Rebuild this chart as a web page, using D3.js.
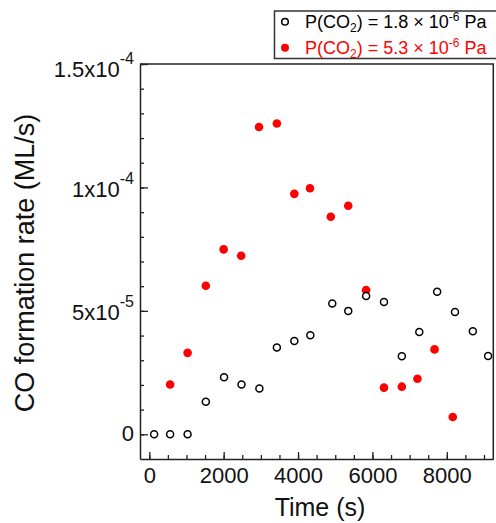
<!DOCTYPE html>
<html>
<head>
<meta charset="utf-8">
<script src="https://cdn.jsdelivr.net/npm/d3@7"></script>
<style>
  body { margin: 0; background: #fff; }
  svg { display: block; font-family: Arial, "Liberation Sans", sans-serif; }
</style>
</head>
<body>
<svg id="chart"></svg>
<script>
// time (s) and CO formation rate (ML/s)
const timeLow = [130, 560, 1030, 1520, 2010, 2480, 2960, 3430, 3900, 4330, 4920, 5350, 5830, 6310, 6790, 7260, 7740, 8220, 8700, 9110];
const rateLow = [0, 0, 0, 1.32e-5, 2.31e-5, 2.02e-5, 1.86e-5, 3.52e-5, 3.78e-5, 4.01e-5, 5.30e-5, 5.00e-5, 5.60e-5, 5.36e-5, 3.16e-5, 4.14e-5, 5.77e-5, 4.95e-5, 4.17e-5, 3.17e-5];

const timeHigh = [560, 1030, 1520, 2000, 2470, 2950, 3430, 3900, 4320, 4880, 5350, 5830, 6310, 6790, 7210, 7670, 8160];
const rateHigh = [2.02e-5, 3.30e-5, 6.02e-5, 7.49e-5, 7.23e-5, 12.45e-5, 12.59e-5, 9.74e-5, 9.97e-5, 8.81e-5, 9.26e-5, 5.84e-5, 1.89e-5, 1.93e-5, 2.25e-5, 3.44e-5, 0.70e-5];

const xTicks = [0, 2000, 4000, 6000, 8000];
const yTicks = [0, 5e-5, 1e-4, 1.5e-4];
const yTickLabels = [["0", ""], ["5x10", "-5"], ["1x10", "-4"], ["1.5x10", "-4"]];

const seriesNames = [
  { base: "1.8", color: "black", filled: false },
  { base: "5.3", color: "red", filled: true }
];

document.addEventListener('DOMContentLoaded', function() {
  drawChart();
});

function drawChart() {
  const width = 496;
  const height = 523;
  const left = 140, right = 493.3, top = 64, bottom = 459;

  const svg = d3.select('#chart')
    .attr('width', width)
    .attr('height', height);

  const xScale = d3.scaleLinear().domain([-250, 9250]).range([left, right]);
  const yScale = d3.scaleLinear().domain([-1e-5, 1.5e-4]).range([bottom, top]);

  // frame (top and right lines, no ticks)
  svg.append('path')
    .attr('d', `M${left},${top}H${right}V${bottom}`)
    .attr('fill', 'none')
    .attr('stroke', '#222')
    .attr('stroke-width', 1.5);

  // minor ticks
  svg.append('g')
    .attr('transform', `translate(0, ${bottom})`)
    .call(d3.axisBottom(xScale).tickValues(d3.range(0, 9001, 500)).tickSize(-4).tickFormat(''))
    .call(g => g.select('.domain').remove())
    .selectAll('line').attr('stroke', '#222').attr('stroke-width', 1.3);

  svg.append('g')
    .attr('transform', `translate(${left}, 0)`)
    .call(d3.axisLeft(yScale).tickValues(d3.range(0, 16).map(i => i * 1e-5)).tickSize(-4).tickFormat(''))
    .call(g => g.select('.domain').remove())
    .selectAll('line').attr('stroke', '#222').attr('stroke-width', 1.3);

  // x axis
  const xAxis = svg.append('g')
    .attr('transform', `translate(0, ${bottom})`)
    .call(d3.axisBottom(xScale).tickValues(xTicks).tickFormat(d3.format('d')).tickSize(-7).tickPadding(8).tickSizeOuter(0));
  xAxis.select('.domain').attr('stroke', '#222').attr('stroke-width', 1.5);
  xAxis.selectAll('line').attr('stroke', '#222').attr('stroke-width', 1.3);
  xAxis.selectAll('text').attr('font-size', 22).attr('fill', '#111');

  // y axis
  const yAxis = svg.append('g')
    .attr('transform', `translate(${left}, 0)`)
    .call(d3.axisLeft(yScale).tickValues(yTicks).tickSize(-8).tickPadding(6).tickSizeOuter(0));
  yAxis.select('.domain').attr('stroke', '#222').attr('stroke-width', 1.5);
  yAxis.selectAll('line').attr('stroke', '#222').attr('stroke-width', 1.3);
  yAxis.selectAll('text')
    .attr('font-size', 22)
    .attr('fill', '#111')
    .attr('dy', (d, i) => i === 0 ? '0.3em' : (i === 3 ? '0.57em' : '0.39em'))
    .each(function(d, i) {
      const t = d3.select(this).text('');
      t.append('tspan').text(yTickLabels[i][0]);
      if (yTickLabels[i][1]) {
        t.append('tspan').attr('font-size', 16).attr('dy', -13).text(yTickLabels[i][1]);
      }
    });

  // axis titles
  svg.append('text')
    .attr('x', 320)
    .attr('y', 516)
    .attr('text-anchor', 'middle')
    .attr('font-size', 25)
    .attr('fill', '#111')
    .text('Time (s)');

  svg.append('text')
    .attr('transform', 'translate(34, 263) rotate(-90)')
    .attr('text-anchor', 'middle')
    .attr('font-size', 27)
    .attr('fill', '#111')
    .text('CO formation rate (ML/s)');

  // red points first, open circles drawn over them
  const high = timeHigh.map((t, i) => ({ t: t, v: rateHigh[i] }));
  const low = timeLow.map((t, i) => ({ t: t, v: rateLow[i] }));

  svg.append('g').selectAll('circle')
    .data(high)
    .enter()
    .append('circle')
    .attr('cx', d => xScale(d.t))
    .attr('cy', d => yScale(d.v))
    .attr('r', 4.3)
    .attr('fill', 'red');

  svg.append('g').selectAll('circle')
    .data(low)
    .enter()
    .append('circle')
    .attr('cx', d => xScale(d.t))
    .attr('cy', d => yScale(d.v))
    .attr('r', 3.5)
    .attr('fill', 'white')
    .attr('stroke', 'black')
    .attr('stroke-width', 1.5);

  // legend
  const legend = svg.append('g').attr('transform', 'translate(274.5, 11)');
  legend.append('rect')
    .attr('width', 240)
    .attr('height', 47.5)
    .attr('fill', 'white')
    .attr('stroke', '#333')
    .attr('stroke-width', 1.5);

  const entries = legend.selectAll('.legend-entry')
    .data(seriesNames)
    .enter()
    .append('g')
    .attr('class', 'legend-entry')
    .attr('transform', (d, i) => `translate(0, ${10.7 + i * 26})`);

  entries.append('circle')
    .attr('cx', 10.5)
    .attr('cy', 0)
    .attr('r', d => d.filled ? 4 : 3.3)
    .attr('fill', d => d.filled ? d.color : 'white')
    .attr('stroke', d => d.filled ? 'none' : d.color)
    .attr('stroke-width', 1.5);

  const label = entries.append('text')
    .attr('x', 30.5)
    .attr('y', 6.6)
    .attr('font-size', 18)
    .attr('fill', d => d.color);
  label.append('tspan').text('P(CO');
  label.append('tspan').attr('font-size', 12).attr('dy', 4).text('2');
  label.append('tspan').attr('dy', -4).text(d => `) = ${d.base} \u00d7 10`);
  label.append('tspan').attr('font-size', 12).attr('dy', -7).text('-6');
  label.append('tspan').attr('dy', 7).text(' Pa');
}
</script>
</body>
</html>
